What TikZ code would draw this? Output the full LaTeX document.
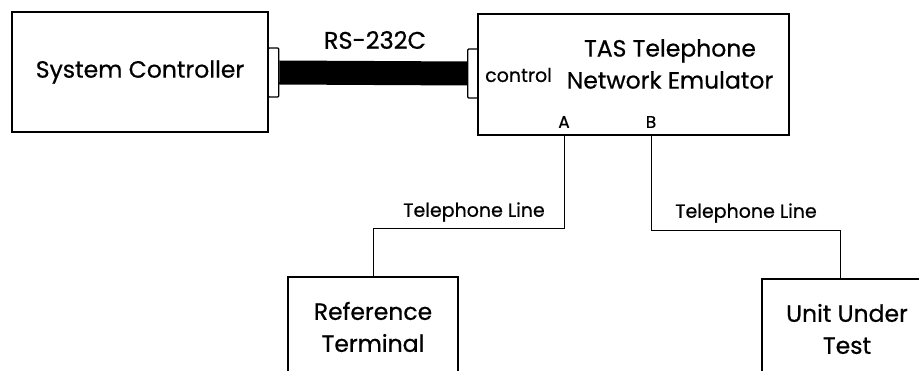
\documentclass[tikz,border=0pt]{standalone}
\usepackage{fontspec}
\setmainfont{Poppins}[FakeBold=0.6]
\begin{document}
\begin{tikzpicture}
  [x=1pt,y=-1pt,
   box/.style={draw,line width=1.1pt,rectangle,inner sep=0pt,align=center,
     font=\fontsize{23.5}{32}\selectfont},
   tab/.style={draw,line width=1.1pt,rectangle,rounded corners=1pt,inner sep=0pt,
     minimum width=10.5pt,minimum height=49pt},
   lbl/.style={inner sep=0pt,font=\fontsize{19}{21}\selectfont},
   port/.style={inner sep=0pt,font=\fontsize{17}{19}\selectfont},
   wire/.style={draw,line width=1pt}]

  \clip (0,0) rectangle (919,371);

  % boxes
  \node[box,minimum width=256pt,minimum height=120pt] (sc) at (140,72) {System Controller};
  \node[box,minimum width=311pt,minimum height=121pt] (tas) at (633.5,74.5) {};
  \node[box,minimum width=170pt,minimum height=100pt] (ref) at (373,327) {Reference\\Terminal};
  \node[box,minimum width=170pt,minimum height=100pt] (uut) at (847,329) {Unit Under\\Test};

  % texts in the emulator
  \node[box,draw=none] (tasname) at (670,64) {TAS Telephone\\Network Emulator};
  \node[lbl,anchor=west] (ctl) at (485,75) {control};
  \node[port] (pa) at (564,122) {A};
  \node[port] (pb) at (651,122) {B};

  % RS-232C link
  \node[tab] (sctab) at (273.5,72.5) {};
  \node[tab] (tastab) at (473,73.5) {};
  \draw[line width=24pt] (sctab.east) -- (tastab.west);
  \node[box,draw=none,font=\fontsize{24}{26}\selectfont] (rs) at (375,40) {RS-232C};

  % telephone lines
  \coordinate (ja) at (564,229);
  \coordinate (jb) at (651,231);
  \coordinate (kb) at (840,231);
  \draw[wire] (tas.south -| ja) -- (ja) -| (ref.north);
  \draw[wire] (tas.south -| jb) |- (kb) -- (kb |- uut.north);
  \node[lbl] (tla) at (474,212) {Telephone Line};
  \node[lbl] (tlb) at (746,213) {Telephone Line};

\end{tikzpicture}
\end{document}
